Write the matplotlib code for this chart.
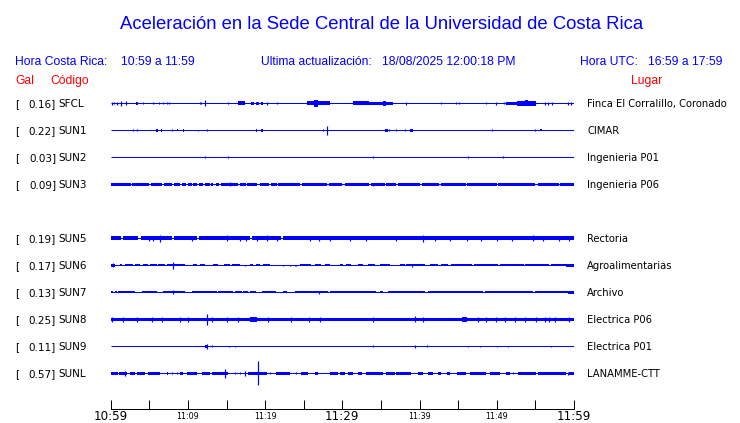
import matplotlib
matplotlib.use("Agg")
import matplotlib.pyplot as plt

W, H = 740, 423
BLUE = "#0000ff"
RED = "#ff0000"

# ---------------- data ----------------
TITLE = "Aceleración en la Sede Central de la Universidad de Costa Rica"
HORA_CR_LABEL = "Hora Costa Rica:"
HORA_CR = "10:59 a 11:59"
ACTUAL_LABEL = "Ultima actualización:"
ACTUAL = "18/08/2025 12:00:18 PM"
HORA_UTC_LABEL = "Hora UTC:"
HORA_UTC = "16:59 a 17:59"

CODES = ["SFCL", "SUN1", "SUN2", "SUN3", "SUN5", "SUN6", "SUN7", "SUN8", "SUN9", "SUNL"]
ROWS = [0, 1, 2, 3, 5, 6, 7, 8, 9, 10]
GALS = [0.16, 0.22, 0.03, 0.09, 0.19, 0.17, 0.13, 0.25, 0.11, 0.57]
PLACES = ["Finca El Corralillo, Coronado", "CIMAR", "Ingenieria P01", "Ingenieria P06",
          "Rectoria", "Agroalimentarias", "Archivo", "Electrica P06", "Electrica P01",
          "LANAMME-CTT"]

TICK_MIN = list(range(0, 61, 5))
TICK_LABELS = ["10:59", "", "11:09", "", "11:19", "", "11:29", "", "11:39", "", "11:49", "", "11:59"]
MAJOR_LABELS = ["10:59", "11:29", "11:59"]

# bursts: (start minute, end minute, half amplitude); spikes: (minute, half amplitude)
SFCL_SEGS = [(3.25, 3.5, 1.3), (16.5, 17.4, 2.0), (18.2, 18.6, 1.3), (18.8, 19.2, 1.3), (19.4, 19.7, 1.3),
             (25.4, 28.4, 2.0), (26.3, 26.9, 3.3), (31.4, 33.5, 2.0), (33.5, 36.6, 1.7), (35.3, 35.7, 2.5),
             (51.2, 55.1, 1.5), (52.6, 55.1, 2.4), (53.6, 54.1, 3.0)]
SFCL_SPK = [(0.13, 1.3), (0.47, 1.0), (0.77, 1.3), (1.29, 2.3), (1.98, 2.0), (4.14, 1.0), (5.43, 1.2),
            (6.29, 1.0), (6.81, 1.2), (7.24, 1.0), (7.58, 1.2), (11.55, 1.2), (11.72, 1.2), (12.2, 3.0),
            (15.2, 1.0), (20.2, 1.3), (21.5, 1.0), (38.3, 1.5), (42.8, 1.0), (44.7, 1.0), (45.1, 1.0),
            (48.6, 1.0), (49.9, 1.5), (50.9, 1.2), (56.2, 1.3), (56.6, 1.3), (57.1, 1.3), (59.2, 1.3),
            (59.6, 1.3)]

SUN1_SEGS = [(5.85, 6.1, 1.3), (6.5, 6.7, 1.3), (8.55, 8.75, 1.0), (9.3, 9.55, 1.3), (18.8, 19.0, 1.3),
             (19.4, 19.7, 1.3), (35.5, 35.9, 1.3), (38.7, 39.1, 1.3), (55.6, 55.9, 1.0)]
SUN1_SPK = [(2.93, 0.8), (3.45, 1.0), (7.97, 1.0), (11.25, 0.7), (12.5, 1.0), (27.5, 1.2), (28.07, 4.5),
            (36.1, 1.0), (36.9, 1.0), (38.1, 1.0), (49.4, 1.0), (54.9, 0.8)]

SUN2_SEGS = []
SUN2_SPK = [(12.2, 1.2), (15.2, 0.8), (34.0, 1.0), (46.3, 1.0), (50.8, 1.0)]

SUN3_SEGS = [(0, 0.5, 1.4), (0.6, 2.6, 1.4), (2.8, 5.0, 1.4), (5.2, 6.7, 1.4), (6.9, 8.0, 1.4),
             (8.2, 9.0, 1.4), (9.2, 9.8, 1.4), (10.0, 10.5, 1.4), (10.7, 11.2, 1.4), (11.4, 12.0, 1.4),
             (12.2, 12.8, 1.4), (13.0, 13.3, 1.4), (13.6, 14.0, 1.4), (14.3, 16.5, 1.4), (16.7, 17.5, 1.4),
             (17.7, 19.0, 1.4), (19.3, 20.5, 1.4), (20.8, 21.5, 1.4), (21.7, 24.5, 1.4), (24.8, 28.0, 1.4),
             (28.3, 30.0, 1.4), (30.3, 33.5, 1.4), (33.7, 35.5, 1.4), (35.7, 37.0, 1.4), (37.2, 40.0, 1.4),
             (40.3, 42.5, 1.4), (42.8, 46.0, 1.4), (46.2, 50.0, 1.4), (50.2, 55.0, 1.7), (55.3, 58.0, 1.4),
             (58.2, 60.0, 1.6)]
SUN3_SPK = [(15.4, 1.9), (34.0, 1.7)]

SUN5_SEGS = [(0, 1.3, 2.0), (1.6, 3.6, 2.0), (3.9, 7.9, 2.0), (8.2, 11.2, 2.0), (11.5, 18.0, 2.0),
             (18.3, 22.0, 2.0), (22.3, 60.0, 2.0)]
SUN5_SPK = [(5.0, 2.7), (5.5, 2.7), (6.4, 3.7), (10.5, 2.6), (15.0, 3.0), (16.7, 2.7), (17.5, 2.6),
            (19.0, 2.6), (20.2, 3.0), (21.6, 2.6), (25.8, 2.7), (27.0, 2.6), (28.4, 2.7), (31.0, 2.6),
            (33.0, 2.6), (37.0, 2.6), (40.4, 3.7), (42.0, 2.6), (44.0, 2.6), (46.1, 2.7), (48.0, 2.6),
            (50.0, 2.6), (52.0, 2.6), (54.7, 3.0), (56.0, 2.6), (58.0, 2.6), (59.4, 2.7)]

SUN6_SEGS = [(0, 0.56, 1.7), (1.2, 1.4, 1.0), (1.85, 2.93, 1.0), (3.14, 3.79, 1.0), (4.22, 4.87, 1.0),
             (5.08, 5.95, 1.0), (6.16, 7.03, 1.0), (7.24, 7.89, 1.0), (7.9, 9.61, 1.0), (10.69, 11.12, 1.0),
             (11.55, 12.2, 1.0), (13.28, 13.92, 1.0), (14.66, 15.43, 1.0), (15.65, 16.73, 1.0),
             (18.02, 18.45, 1.0), (18.88, 19.32, 1.0), (19.75, 20.69, 1.0), (24.49, 26.0, 1.0),
             (26.43, 27.29, 1.0), (27.72, 28.37, 1.0), (29.66, 30.1, 1.0), (30.53, 31.17, 1.0),
             (32.04, 32.68, 1.0), (33.33, 34.19, 1.0), (34.83, 36.13, 1.0), (37.42, 38.07, 1.0),
             (38.28, 40.66, 1.0), (41.3, 42.38, 1.0), (42.81, 43.67, 1.0), (44.1, 46.8, 1.0),
             (47.0, 50.2, 1.0), (50.4, 53.5, 1.0), (53.7, 56.8, 1.0), (57.0, 60.0, 1.0), (58.98, 60.0, 1.7)]
SUN6_SPK = [(0.3, 2.0), (8.1, 3.7), (17.37, 0.8), (22.33, 0.8), (23.2, 0.8), (23.84, 0.8), (24.06, 0.8),
            (39.0, 1.7)]

SUN7_SEGS = [(0, 0.34, 1.1), (0.56, 0.77, 1.1), (0.99, 3.14, 1.1), (4.01, 5.95, 1.1), (6.81, 9.61, 1.1),
             (10.47, 13.71, 1.1), (13.92, 15.87, 1.1), (16.08, 16.94, 1.1), (17.16, 17.81, 1.1),
             (18.02, 18.88, 1.1), (19.53, 21.47, 1.1), (22.33, 22.77, 1.1), (23.84, 28.16, 1.1),
             (28.37, 33.55, 1.1), (33.54, 34.4, 1.1), (34.83, 35.26, 1.1), (35.9, 40.66, 1.1),
             (41.09, 48.2, 1.1), (48.42, 54.67, 1.1), (54.9, 60.0, 1.1), (59.2, 60.0, 1.7)]
SUN7_SPK = [(8.1, 2.0), (27.0, 1.5)]

SUN8_SEGS = [(0, 60.0, 1.8), (18.0, 18.9, 2.4), (45.5, 46.2, 2.2)]
SUN8_SPK = [(0.13, 2.5), (1.63, 2.5), (3.36, 2.5), (5.38, 2.5), (6.7, 2.5), (8.97, 2.5), (10.0, 2.5),
            (12.42, 5.5), (13.06, 2.5), (15.09, 2.5), (16.5, 2.5), (20.4, 2.5), (23.3, 2.5), (25.7, 2.5),
            (27.1, 2.5), (34.0, 2.5), (39.36, 3.0), (40.44, 2.5), (47.55, 2.5), (48.63, 2.5), (49.93, 2.5),
            (51.0, 2.5), (52.3, 2.5), (53.6, 2.5), (55.1, 2.5), (56.2, 2.5), (56.8, 2.5), (57.5, 2.5),
            (59.4, 2.5)]

SUN9_SEGS = [(12.2, 12.6, 1.2)]
SUN9_SPK = [(12.42, 2.5), (13.06, 1.0), (15.3, 0.8), (16.1, 0.8), (34.0, 1.0), (39.36, 1.3), (41.0, 1.0),
            (46.3, 0.8), (47.8, 0.8), (50.0, 0.8), (51.4, 0.8), (57.0, 0.8)]

SUNL_SEGS = [(0, 0.99, 1.3), (1.12, 2.07, 1.3), (2.5, 3.14, 1.3), (3.36, 4.44, 1.3), (4.87, 6.38, 1.3),
             (7.24, 7.46, 1.3), (8.97, 9.4, 1.3), (9.83, 11.12, 1.3), (11.77, 12.85, 1.3), (13.06, 15.22, 1.3),
             (17.8, 20.18, 1.3), (21.47, 23.19, 1.3), (24.7, 25.57, 1.3), (26.43, 26.86, 1.3),
             (28.37, 29.45, 1.3), (29.7, 30.3, 1.3), (30.7, 31.4, 1.3), (32.0, 32.5, 1.3), (33.1, 35.26, 1.3),
             (35.7, 36.8, 1.3), (37.0, 38.9, 1.3), (39.8, 40.4, 1.3), (41.1, 41.7, 1.3), (42.4, 42.8, 1.3),
             (43.5, 43.9, 1.3), (44.8, 46.05, 1.3), (46.5, 48.6, 1.3), (49.1, 50.4, 1.3), (51.2, 51.65, 1.3),
             (52.7, 55.1, 1.3), (55.3, 59.0, 1.6), (59.4, 60.0, 1.3)]
SUNL_SPK = [(1.85, 2.5), (7.89, 1.0), (8.53, 1.0), (14.8, 4.3), (16.08, 1.0), (16.73, 1.0), (17.4, 2.5),
            (19.1, 12.0), (20.61, 1.0), (24.06, 1.0), (52.1, 1.0), (59.2, 1.5)]

SEGS = [SFCL_SEGS, SUN1_SEGS, SUN2_SEGS, SUN3_SEGS, SUN5_SEGS, SUN6_SEGS, SUN7_SEGS, SUN8_SEGS,
        SUN9_SEGS, SUNL_SEGS]
SPKS = [SFCL_SPK, SUN1_SPK, SUN2_SPK, SUN3_SPK, SUN5_SPK, SUN6_SPK, SUN7_SPK, SUN8_SPK,
        SUN9_SPK, SUNL_SPK]

# ---------------- layout ----------------
ROW_GAP = 27.0          # row spacing (px)
ROW0 = 103.3            # centre of first trace (px from top)
X0, X1 = 110.7, 574.0   # trace extent (px)
AX_TOP, AX_BOT = 90.0, 409.0
PX = 72.0 / 100.0       # 1px in points

fig = plt.figure(figsize=(W / 100, H / 100), dpi=100)
fig.patch.set_facecolor("white")


def fx(x):
    return x / W


def fy(y):
    return 1 - y / H


ax = fig.add_axes([fx(X0), fy(AX_BOT), (X1 - X0) / W, (AX_BOT - AX_TOP) / H])
ax.set_xlim(0, 60)
ax.set_ylim(AX_BOT - ROW0, AX_TOP - ROW0)
for s in ["top", "left", "right"]:
    ax.spines[s].set_visible(False)
ax.spines["bottom"].set_linewidth(1.0 * PX)
ax.set_yticks([])
ax.set_xticks(TICK_MIN)
ax.set_xticklabels(TICK_LABELS)
ax.tick_params(axis="x", direction="in", length=9 * PX, width=1.0 * PX, pad=1.0, colors="black")
for lab in ax.get_xticklabels():
    if lab.get_text() in MAJOR_LABELS:
        lab.set_fontsize(8.6)
    else:
        lab.set_fontsize(5.8)
        lab.set_y(-0.004)
    lab.set_family("DejaVu Sans")

for i, row in enumerate(ROWS):
    yc = row * ROW_GAP
    ax.hlines(yc, 0, 60, colors=BLUE, linewidth=1.0 * PX)
    for (t0, t1, a) in SEGS[i]:
        ax.bar(t0, 2 * a, width=t1 - t0, bottom=yc - a, align="edge", color=BLUE, linewidth=0)
    if SPKS[i]:
        ts = [s[0] for s in SPKS[i]]
        lo = [yc - s[1] for s in SPKS[i]]
        hi = [yc + s[1] for s in SPKS[i]]
        ax.vlines(ts, lo, hi, colors=BLUE, linewidth=1.2 * PX)

    ypx = ROW0 + row * ROW_GAP + 3.8
    fig.text(fx(15), fy(ypx), "[", fontsize=7.5, family="DejaVu Sans", va="baseline", ha="left")
    fig.text(fx(56), fy(ypx), f"{GALS[i]:.2f}]", fontsize=7.5, family="DejaVu Sans",
             va="baseline", ha="right")
    fig.text(fx(58.5), fy(ypx), CODES[i], fontsize=7.5, family="DejaVu Sans", va="baseline", ha="left")
    fig.text(fx(587), fy(ypx), PLACES[i], fontsize=7.2, family="DejaVu Sans", va="baseline", ha="left")

# header texts
HF = dict(fontsize=8.7, family="Liberation Sans", va="baseline")
fig.text(fx(382), fy(29), TITLE, fontsize=13.3, family="Liberation Sans", color=BLUE,
         ha="center", va="baseline")
fig.text(fx(15), fy(65), HORA_CR_LABEL, color=BLUE, ha="left", **HF)
fig.text(fx(121), fy(65), HORA_CR, color=BLUE, ha="left", **HF)
fig.text(fx(261), fy(65), ACTUAL_LABEL, color=BLUE, ha="left", **HF)
fig.text(fx(381.5), fy(65), ACTUAL, color=BLUE, ha="left", **HF)
fig.text(fx(580.5), fy(65), HORA_UTC_LABEL, color=BLUE, ha="left", **HF)
fig.text(fx(723), fy(65), HORA_UTC, color=BLUE, ha="right", **HF)
fig.text(fx(15), fy(84), "Gal", color=RED, ha="left", **HF)
fig.text(fx(50), fy(84), "Código", color=RED, ha="left", **HF)
fig.text(fx(631), fy(84), "Lugar", color=RED, ha="left", **HF)

fig.savefig("out.png", dpi=100, facecolor="white")
